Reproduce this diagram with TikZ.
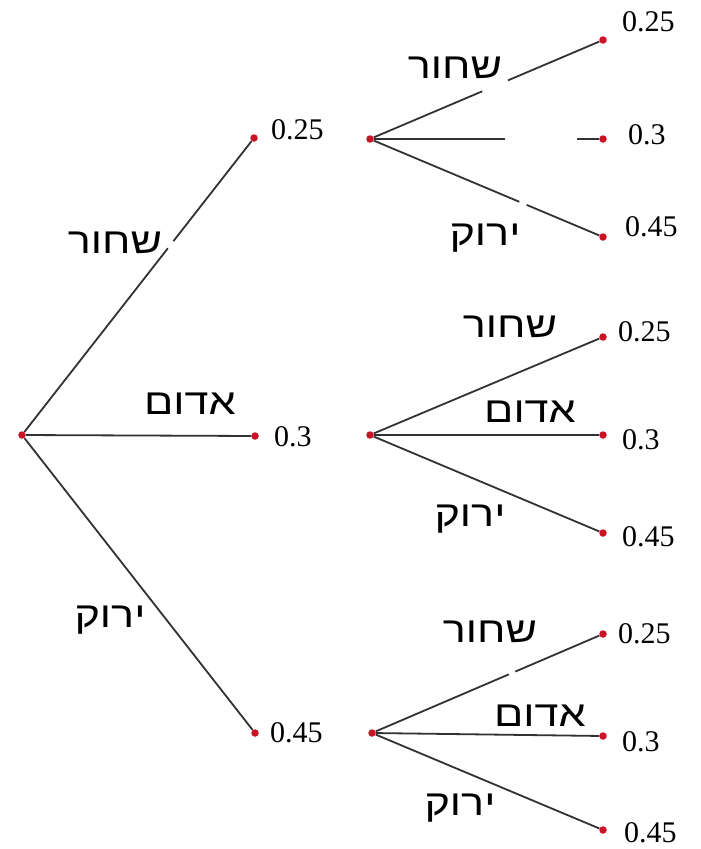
\documentclass[tikz,border=0pt]{standalone}
\usepackage{fontspec}
\setmainfont{Liberation Serif}
\newfontfamily\hebfont[Script=Hebrew,FakeStretch=1.2]{Liberation Sans}
\TeXXeTstate=1
\definecolor{dotred}{RGB}{200,20,35}
\definecolor{linegray}{RGB}{50,50,50}
\begin{document}
\begin{tikzpicture}[x=1pt,y=-1pt,
  dot/.style={circle,fill=dotred,inner sep=0pt,minimum size=7.5pt},
  br/.style={draw=linegray,line width=1.8pt},
  num/.style={anchor=west,inner sep=0pt,font=\fontsize{30}{30}\selectfont},
  heb/.style={inner sep=0pt,font=\hebfont\fontsize{36}{36}\selectfont}]
\useasboundingbox[fill=white] (0,0) rectangle (701,849);
% dots
\node[dot] (r) at (22,435) {};
\node[dot] (a1) at (254,138) {};
\node[dot] (a2) at (255,436) {};
\node[dot] (a3) at (255,733) {};
\node[dot] (b1) at (370,139) {};
\node[dot] (b2) at (370,435) {};
\node[dot] (b3) at (372,733) {};
\node[dot] (c11) at (603,40) {};
\node[dot] (c12) at (603,139) {};
\node[dot] (c13) at (603,237) {};
\node[dot] (c21) at (603,337) {};
\node[dot] (c22) at (603,435) {};
\node[dot] (c23) at (603,533) {};
\node[dot] (c31) at (603,634) {};
\node[dot] (c32) at (603,736) {};
\node[dot] (c33) at (603,830) {};
% connectors
\draw[br,dash pattern=on 233pt off 9pt on 150pt] (r) -- (a1);
\draw[br] (r) -- (a2);
\draw[br] (r) -- (a3);
\draw[br,dash pattern=on 118pt off 28pt on 120pt] (b1) -- (c11);
\draw[br,dash pattern=on 131pt off 72pt on 40pt] (b1) -- (c12);
\draw[br,dash pattern=on 158pt off 8pt on 120pt] (b1) -- (c13);
\draw[br] (b2) -- (c21);
\draw[br] (b2) -- (c22);
\draw[br] (b2) -- (c23);
\draw[br,dash pattern=on 145pt off 7pt on 120pt] (b3) -- (c31);
\draw[br] (b3) -- (c32);
\draw[br] (b3) -- (c33);
% numbers
\node[num] (na1) at (271,130) {0.25};
\node[num] (na2) at (274,437) {0.3};
\node[num] (na3) at (270,733) {0.45};
\node[num] (n11) at (622,22) {0.25};
\node[num] (n12) at (628,135) {0.3};
\node[num] (n13) at (625,227) {0.45};
\node[num] (n21) at (618,332) {0.25};
\node[num] (n22) at (622,440) {0.3};
\node[num] (n23) at (622,537) {0.45};
\node[num] (n31) at (618,634) {0.25};
\node[num] (n32) at (622,742) {0.3};
\node[num] (n33) at (624,833) {0.45};
% hebrew labels
\node[heb] (h1) at (115,243) {\beginR שחור\endR};
\node[heb] (h2) at (190,404) {\beginR אדום\endR};
\node[heb] (h3) at (110,620) {\beginR ירוק\endR};
\node[heb] (h11) at (455,68) {\beginR שחור\endR};
\node[heb] (h13) at (485,238) {\beginR ירוק\endR};
\node[heb] (h21) at (510,327) {\beginR שחור\endR};
\node[heb] (h22) at (530,412) {\beginR אדום\endR};
\node[heb] (h23) at (470,519) {\beginR ירוק\endR};
\node[heb] (h31) at (490,632) {\beginR שחור\endR};
\node[heb] (h32) at (540,716) {\beginR אדום\endR};
\node[heb] (h33) at (460,808) {\beginR ירוק\endR};
\end{tikzpicture}
\end{document}
